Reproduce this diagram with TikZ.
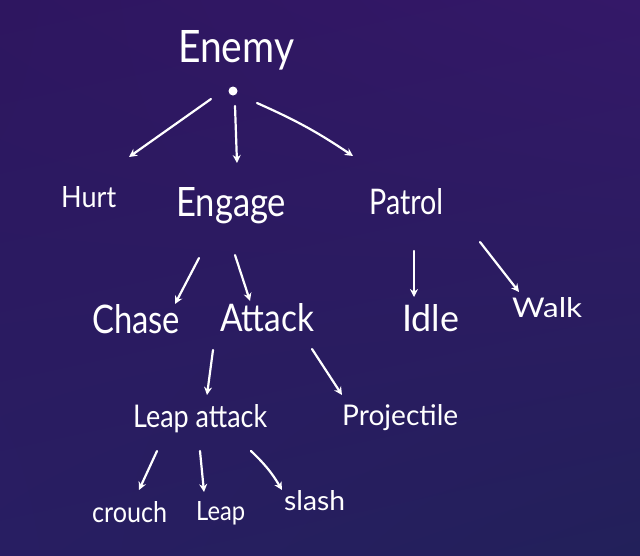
\documentclass[tikz,border=0pt]{standalone}
\usepackage{fontspec}
\setmainfont{Lato}
\usetikzlibrary{arrows.meta,shadings}
\definecolor{bgUL}{RGB}{46,22,96}
\definecolor{bgUR}{RGB}{52,24,104}
\definecolor{bgLL}{RGB}{40,30,98}
\definecolor{bgLR}{RGB}{34,32,90}
\newcommand\hw[3]{\resizebox{#1pt}{#2pt}{#3}}
\tikzset{
  lbl/.style={anchor=base west, inner sep=0pt, text=white, font=\fontsize{40}{48}\selectfont},
  arr/.style={draw=white, line width=2.2pt, line cap=round, -{Stealth[length=8pt,width=8pt]}},
  dotnode/.style={circle, fill=white, inner sep=0pt, minimum size=9pt}
}
\begin{document}
\begin{tikzpicture}[x=1pt,y=-1pt]
\shade[upper left=bgUL, upper right=bgUR, lower left=bgLL, lower right=bgLR] (0,0) rectangle (640,555);
\useasboundingbox (0,0) rectangle (640,555);
% nodes
\node[lbl] (enemy) at (178,62) {\hw{116}{32}{Enemy}};
\node[dotnode] (dot) at (233,91) {};
\node[lbl] (hurt) at (61,207) {\hw{55}{21}{Hurt}};
\node[lbl] (engage) at (176,216) {\hw{110}{29}{Engage}};
\node[lbl] (patrol) at (369,214) {\hw{74}{26}{Patrol}};
\node[lbl] (chase) at (92,333) {\hw{88}{29}{Chase}};
\node[lbl] (attack) at (220,331) {\hw{94}{28}{Attack}};
\node[lbl] (idle) at (402,331) {\hw{57}{27}{Idle}};
\node[lbl] (walk) at (512,317) {\hw{70}{20}{Walk}};
\node[lbl] (leapattack) at (133,427) {\hw{134}{23}{Leap attack}};
\node[lbl] (projectile) at (342,425) {\hw{116}{21}{Projectile}};
\node[lbl] (crouch) at (92,522) {\hw{75}{21}{crouch}};
\node[lbl] (leap) at (196,520) {\hw{49}{19}{Leap}};
\node[lbl] (slash) at (284,510) {\hw{61}{20}{slash}};
% connectors
\draw[arr] ([shift={(-22,8)}]dot.center) -- ([shift={(68,-50)}]hurt.base west);
\draw[arr] ([shift={(2,15)}]dot.center) -- ([shift={(61,-53)}]engage.base west);
\draw[arr] ([shift={(24,12)}]dot.center) to[bend left=5] ([shift={(-16,-58)}]patrol.base west);
\draw[arr] ([shift={(23,42)}]engage.base west) -- ([shift={(83,-29)}]chase.base west);
\draw[arr] ([shift={(59,39)}]engage.base west) -- ([shift={(30,-30)}]attack.base west);
\draw[arr] ([shift={(45,37)}]patrol.base west) -- ([shift={(12,-34)}]idle.base west);
\draw[arr] ([shift={(111,28)}]patrol.base west) -- ([shift={(7,-25)}]walk.base west);
\draw[arr] ([shift={(-7,19)}]attack.base west) -- ([shift={(74,-32)}]leapattack.base west);
\draw[arr] ([shift={(92,18)}]attack.base west) -- ([shift={(0,-30)}]projectile.base west);
\draw[arr] ([shift={(24,24)}]leapattack.base west) -- ([shift={(47,-32)}]crouch.base west);
\draw[arr] ([shift={(67,24)}]leapattack.base west) -- ([shift={(8,-28)}]leap.base west);
\draw[arr] ([shift={(118,24)}]leapattack.base west) to[bend left=8] ([shift={(-2,-20)}]slash.base west);
\end{tikzpicture}
\end{document}
